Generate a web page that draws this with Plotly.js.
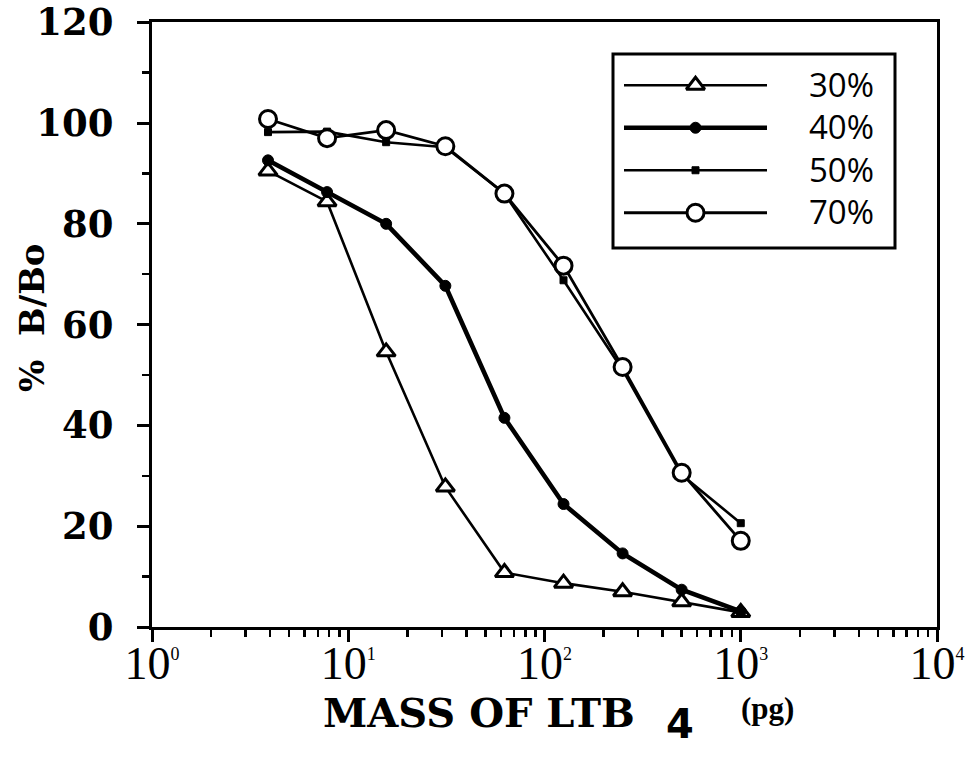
<!DOCTYPE html>
<html>
<head>
<meta charset="utf-8">
<script src="https://cdn.plot.ly/plotly-3.0.1.min.js"></script>
<style>
  html, body { margin: 0; padding: 0; background: #fff; }
  #chart { width: 975px; height: 761px; }
</style>
</head>
<body>
<div id="chart"></div>
<script>
// LTB4 standard curves: % B/Bo against mass of LTB4 (pg), one curve per condition
var mass = [3.9, 7.8, 15.6, 31.25, 62.5, 125, 250, 500, 1000];
var s30 = [90.5, 84.4, 54.6, 27.8, 10.8, 8.7, 7.0, 5.0, 2.9];
var s40 = [92.6, 86.3, 80.0, 67.7, 41.5, 24.4, 14.6, 7.4, 3.1];
var s50 = [98.2, 98.3, 96.2, 95.2, 86.0, 68.8, 51.0, 30.2, 20.6];
var s70 = [100.8, 97.0, 98.6, 95.4, 86.0, 71.7, 51.6, 30.6, 17.1];
var seriesNames = ['30%', '40%', '50%', '70%'];

var xTickVals = [1, 10, 100, 1000, 10000];
var xTickExp = ['0', '1', '2', '3', '4'];
var yTickVals = [0, 20, 40, 60, 80, 100, 120];

var xTickText = xTickExp.map(function (e) {
  return '10<sup><span style="font-size:18px">' + e + '</span></sup>';
});

// minor ticks at 2..9 of every decade
var xMinor = [];
for (var d = 0; d < 4; d++) {
  for (var k = 2; k <= 9; k++) xMinor.push(k * Math.pow(10, d));
}

var W = 975, H = 761;
var M = {l: 152, r: 38, t: 22, b: 134};
var pw = W - M.l - M.r, ph = H - M.t - M.b;
function px(x) { return (x - M.l) / pw; }
function py(y) { return (H - M.b - y) / ph; }

var styles = [
  {line: 2.6, symbol: 'triangle-up', size: 16, mlw: 3, color: '#fff'},
  {line: 4.6, symbol: 'circle', size: 11, mlw: 1, color: '#000'},
  {line: 2.6, symbol: 'square', size: 7, mlw: 1, color: '#000'},
  {line: 2.8, symbol: 'circle', size: 17, mlw: 3, color: '#fff'}
];
var series = [s30, s40, s50, s70];

var traces = [];
series.forEach(function (vals, i) {
  var st = styles[i];
  traces.push({
    x: mass, y: vals, name: seriesNames[i], type: 'scatter', mode: 'lines+markers',
    line: {color: '#000', width: st.line},
    marker: {symbol: st.symbol, size: st.size, color: st.color,
             line: {color: '#000', width: st.mlw}},
    cliponaxis: false, showlegend: false
  });
});

// key samples on a small hidden pair of axes inside the key box
var keyX = [0, 0.5, 1];
series.forEach(function (vals, i) {
  var st = styles[i];
  traces.push({
    x: keyX, y: [i, i, i], xaxis: 'x2', yaxis: 'y2', type: 'scatter', mode: 'lines+markers',
    line: {color: '#000', width: st.line},
    marker: {symbol: st.symbol, size: st.size, color: st.color, opacity: [0, 1, 0],
             line: {color: '#000', width: st.mlw}},
    cliponaxis: false, showlegend: false, hoverinfo: 'skip'
  });
});

var keyRows = [85, 127, 169, 212];
var annotations = seriesNames.map(function (n, i) {
  return {xref: 'paper', yref: 'paper', x: px(807), y: py(keyRows[i]), text: n,
          showarrow: false, xanchor: 'left', yanchor: 'middle',
          font: {family: 'Open Sans, sans-serif', size: 33, color: '#000'}};
});
annotations.push(
  {xref: 'paper', yref: 'paper', x: px(479), y: py(712), text: 'MASS OF LTB',
   showarrow: false, xanchor: 'center', yanchor: 'middle',
   font: {family: 'DejaVu Serif', size: 40, color: '#000', weight: 'bold'}},
  {xref: 'paper', yref: 'paper', x: px(680), y: py(724), text: '4',
   showarrow: false, xanchor: 'center', yanchor: 'middle',
   font: {family: 'DejaVu Sans', size: 40, color: '#000', weight: 'bold'}},
  {xref: 'paper', yref: 'paper', x: px(767), y: py(708), text: '(pg)',
   showarrow: false, xanchor: 'center', yanchor: 'middle',
   font: {family: 'Liberation Serif, serif', size: 31, color: '#000', weight: 'bold'}},
  {xref: 'paper', yref: 'paper', x: px(32), y: py(318), text: '%  B/Bo',
   showarrow: false, textangle: -90, xanchor: 'center', yanchor: 'middle',
   font: {family: 'DejaVu Serif', size: 34, color: '#000', weight: 'bold'}}
);

var layout = {
  width: W, height: H,
  margin: M,
  paper_bgcolor: '#fff', plot_bgcolor: '#fff',
  showlegend: false,
  xaxis: {
    type: 'log', range: [0, 4],
    tickmode: 'array', tickvals: xTickVals, ticktext: xTickText,
    ticks: 'outside', ticklen: 12, tickwidth: 3, tickcolor: '#000',
    minor: {tickmode: 'array', tickvals: xMinor, ticks: 'outside', ticklen: 7, tickwidth: 2.5, tickcolor: '#000'},
    showline: true, linewidth: 3, linecolor: '#000', mirror: true,
    showgrid: false, zeroline: false, ticklabelstandoff: -18,
    tickfont: {family: 'Liberation Serif, Times New Roman, serif', size: 46, color: '#000'}
  },
  yaxis: {
    range: [0, 120.05],
    tickmode: 'array', tickvals: yTickVals,
    ticks: 'outside', ticklen: 12, tickwidth: 3, tickcolor: '#000',
    minor: {dtick: 10, tick0: 0, ticks: 'outside', ticklen: 7, tickwidth: 2.5, tickcolor: '#000'},
    showline: true, linewidth: 3, linecolor: '#000', mirror: true,
    showgrid: false, zeroline: false, ticklabelstandoff: 16,
    tickfont: {family: 'DejaVu Serif', size: 37, color: '#000', weight: 'bold'}
  },
  xaxis2: {domain: [px(624), px(767)], range: [0, 1], anchor: 'y2',
           visible: false, fixedrange: true},
  yaxis2: {domain: [py(234), py(64)], range: [3.5, -0.5], anchor: 'x2',
           visible: false, fixedrange: true},
  shapes: [
    {type: 'rect', xref: 'paper', yref: 'paper',
     x0: px(613), x1: px(895), y0: py(248), y1: py(54),
     line: {color: '#000', width: 3}, fillcolor: 'rgba(0,0,0,0)'}
  ],
  annotations: annotations
};

Plotly.newPlot('chart', traces, layout, {staticPlot: true, displayModeBar: false});
</script>
</body>
</html>
